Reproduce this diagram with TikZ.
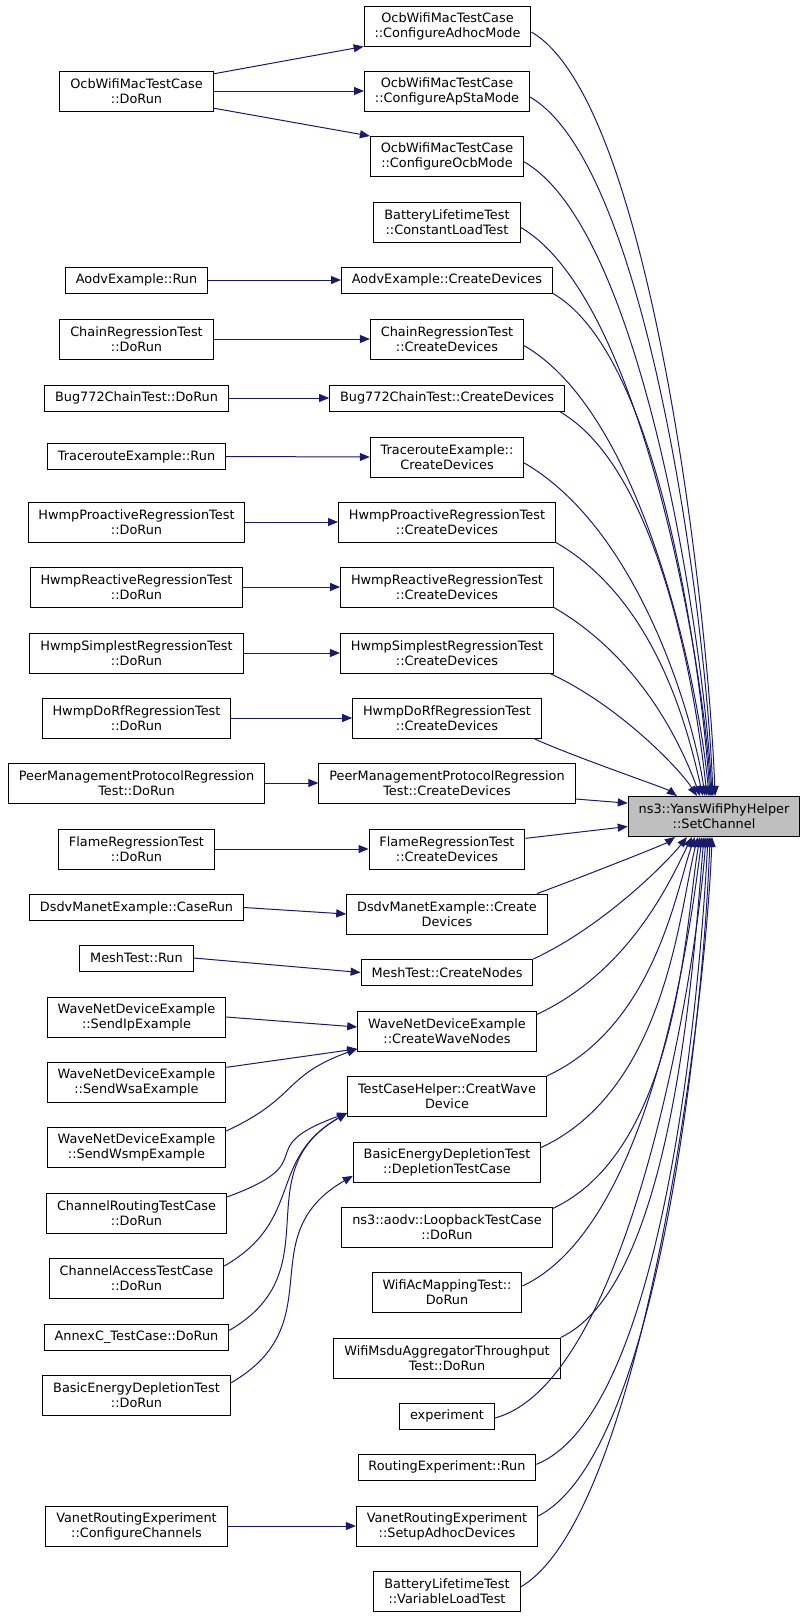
\documentclass[tikz,border=0pt]{standalone}
\usepackage{fontspec}
\setmainfont{DejaVu Sans}
\usetikzlibrary{arrows.meta}
\definecolor{callblue}{HTML}{191970}
\definecolor{targetgray}{HTML}{BFBFBF}

\begin{document}
\begin{tikzpicture}[x=0.75pt,y=0.75pt,
  fn/.style={draw=black,line width=0.75pt,fill=white,align=center,
    font=\fontsize{9.65}{11.25}\selectfont,inner xsep=7.8pt,inner ysep=1pt,
    minimum height=19.5pt},
  fntwo/.style={fn,minimum height=30pt},
  target/.style={fntwo,fill=targetgray},
  call/.style={callblue,line width=0.75pt,-{Triangle[length=7.5pt,width=6pt]}}]
\useasboundingbox (0,0) rectangle (807,-1617);
% callee
\node[target] (sc) at (714,-816.5) {ns3::YansWifiPhyHelper\\::SetChannel};
% direct callers
\node[fntwo] (adhoc) at (447.5,-26) {OcbWifiMacTestCase\\::ConfigureAdhocMode};
\node[fntwo] (apsta) at (447,-91) {OcbWifiMacTestCase\\::ConfigureApStaMode};
\node[fntwo] (ocbmode) at (447,-156.5) {OcbWifiMacTestCase\\::ConfigureOcbMode};
\node[fntwo] (constload) at (447,-222) {BatteryLifetimeTest\\::ConstantLoadTest};
\node[fn] (aodvcd) at (447,-280) {AodvExample::CreateDevices};
\node[fntwo] (chaincd) at (447,-339) {ChainRegressionTest\\::CreateDevices};
\node[fn] (bugcd) at (447,-398) {Bug772ChainTest::CreateDevices};
\node[fntwo] (tracecd) at (447,-457) {TracerouteExample::\\CreateDevices};
\node[fntwo] (procd) at (447,-522) {HwmpProactiveRegressionTest\\::CreateDevices};
\node[fntwo] (reacd) at (447,-587) {HwmpReactiveRegressionTest\\::CreateDevices};
\node[fntwo] (simcd) at (447,-653) {HwmpSimplestRegressionTest\\::CreateDevices};
\node[fntwo] (dorfcd) at (447,-718) {HwmpDoRfRegressionTest\\::CreateDevices};
\node[fntwo] (peercd) at (447,-783) {PeerManagementProtocolRegression\\Test::CreateDevices};
\node[fntwo] (flamecd) at (447,-849) {FlameRegressionTest\\::CreateDevices};
\node[fntwo] (dsdvcd) at (447,-914) {DsdvManetExample::Create\\Devices};
\node[fn] (meshcd) at (447,-972.5) {MeshTest::CreateNodes};
\node[fntwo] (wavecd) at (447,-1031) {WaveNetDeviceExample\\::CreateWaveNodes};
\node[fntwo] (tch) at (447,-1096.5) {TestCaseHelper::CreatWave\\Device};
\node[fntwo] (depl) at (447,-1162) {BasicEnergyDepletionTest\\::DepletionTestCase};
\node[fntwo] (loop) at (447,-1227) {ns3::aodv::LoopbackTestCase\\::DoRun};
\node[fntwo] (acmap) at (447,-1292) {WifiAcMappingTest::\\DoRun};
\node[fntwo] (msdu) at (447,-1358) {WifiMsduAggregatorThroughput\\Test::DoRun};
\node[fn] (expt) at (447,-1416) {experiment};
\node[fn] (routrun) at (447,-1467) {RoutingExperiment::Run};
\node[fntwo] (setup) at (447,-1526) {VanetRoutingExperiment\\::SetupAdhocDevices};
\node[fntwo] (varload) at (447,-1591) {BatteryLifetimeTest\\::VariableLoadTest};
% second level callers
\node[fntwo] (ocbrun) at (136.5,-91) {OcbWifiMacTestCase\\::DoRun};
\node[fn] (aodvrun) at (136.5,-280) {AodvExample::Run};
\node[fntwo] (chainrun) at (136.5,-339) {ChainRegressionTest\\::DoRun};
\node[fn] (bugrun) at (136.5,-398) {Bug772ChainTest::DoRun};
\node[fn] (tracerun) at (136.5,-456.5) {TracerouteExample::Run};
\node[fntwo] (prorun) at (136.5,-522) {HwmpProactiveRegressionTest\\::DoRun};
\node[fntwo] (rearun) at (136.5,-587) {HwmpReactiveRegressionTest\\::DoRun};
\node[fntwo] (simrun) at (136.5,-653) {HwmpSimplestRegressionTest\\::DoRun};
\node[fntwo] (dorfrun) at (136.5,-718) {HwmpDoRfRegressionTest\\::DoRun};
\node[fntwo] (peerrun) at (136.5,-783) {PeerManagementProtocolRegression\\Test::DoRun};
\node[fntwo] (flamerun) at (136.5,-849) {FlameRegressionTest\\::DoRun};
\node[fn] (dsdvrun) at (136.5,-907.5) {DsdvManetExample::CaseRun};
\node[fn] (meshrun) at (136.5,-958) {MeshTest::Run};
\node[fntwo] (ipex) at (136.5,-1017) {WaveNetDeviceExample\\::SendIpExample};
\node[fntwo] (wsaex) at (136.5,-1082) {WaveNetDeviceExample\\::SendWsaExample};
\node[fntwo] (wsmpex) at (136.5,-1147) {WaveNetDeviceExample\\::SendWsmpExample};
\node[fntwo] (chrouterun) at (136.5,-1213) {ChannelRoutingTestCase\\::DoRun};
\node[fntwo] (chaccrun) at (136.5,-1278) {ChannelAccessTestCase\\::DoRun};
\node[fn] (annexrun) at (136.5,-1337) {AnnexC\_TestCase::DoRun};
\node[fntwo] (bedrun) at (136.5,-1395) {BasicEnergyDepletionTest\\::DoRun};
\node[fntwo] (confchan) at (136.5,-1526) {VanetRoutingExperiment\\::ConfigureChannels};
% calls into the middle column
\draw[call] ([yshift=-2.5pt]ocbrun.north east) -- (adhoc.south west);
\draw[call] (ocbrun.east) -- (apsta.west);
\draw[call] ([yshift=2.5pt]ocbrun.south east) -- (ocbmode.north west);
\draw[call] (aodvrun.east) -- (aodvcd.west);
\draw[call] (chainrun.east) -- (chaincd.west);
\draw[call] (bugrun.east) -- (bugcd.west);
\draw[call] (tracerun.east) -- (tracecd.west);
\draw[call] (prorun.east) -- (procd.west);
\draw[call] (rearun.east) -- (reacd.west);
\draw[call] (simrun.east) -- (simcd.west);
\draw[call] (dorfrun.east) -- (dorfcd.west);
\draw[call] (peerrun.east) -- (peercd.west);
\draw[call] (flamerun.east) -- (flamecd.west);
\draw[call] (dsdvrun.east) -- (dsdvcd.west);
\draw[call] (meshrun.east) -- (meshcd.west);
\draw[call] (ipex.east) -- ([yshift=3pt]wavecd.west);
\draw[call] ([yshift=11pt]wsaex.east) -- ([yshift=2pt]wavecd.south west);
\draw[call] ([yshift=12pt]wsmpex.east) to[out=25,in=200,out distance=60pt,in distance=60pt] ([yshift=2pt]wavecd.south west);
\draw[call] ([yshift=12pt]chrouterun.east) to[out=20,in=200,out distance=80pt,in distance=80pt] ([yshift=3pt]tch.south west);
\draw[call] ([yshift=9pt]chaccrun.east) to[out=30,in=210,out distance=70pt,in distance=70pt] ([yshift=3pt]tch.south west);
\draw[call] ([yshift=5pt]annexrun.east) to[out=30,in=210,out distance=90pt,in distance=90pt] ([yshift=3pt]tch.south west);
\draw[call] ([yshift=9pt]bedrun.east) to[out=30,in=210,out distance=90pt,in distance=90pt] ([yshift=5pt]depl.south west);
\draw[call] (confchan.east) -- (setup.west);
% calls into SetChannel, from above
\draw[call] ([yshift=-4.5pt]adhoc.east) to[out=-30,in=92,out distance=105pt,in distance=130pt] ([xshift=0.8pt]sc.north);
\draw[call] ([yshift=-4.5pt]apsta.east) to[out=-30,in=92,out distance=105pt,in distance=119pt] ([xshift=-0.8pt]sc.north);
\draw[call] ([yshift=-4pt]ocbmode.east) to[out=-30,in=93,out distance=105pt,in distance=108pt] ([xshift=-1.5pt]sc.north);
\draw[call] ([yshift=-4pt]constload.east) to[out=-30,in=93,out distance=105pt,in distance=97pt] ([xshift=-2.3pt]sc.north);
\draw[call] (aodvcd.south east) to[out=-30,in=94,out distance=95pt,in distance=86pt] ([xshift=-3pt]sc.north);
\draw[call] ([yshift=-5pt]chaincd.east) to[out=-30,in=95,out distance=105pt,in distance=77pt] ([xshift=-3.8pt]sc.north);
\draw[call] ([xshift=-4pt]bugcd.south east) to[out=-30,in=96,out distance=90pt,in distance=65pt] ([xshift=-5.3pt]sc.north);
\draw[call] ([yshift=-4.5pt]tracecd.east) to[out=-30,in=98,out distance=100pt,in distance=57pt] ([xshift=-6.8pt]sc.north);
\draw[call] (procd.south east) to[out=-30,in=103,out distance=90pt,in distance=43pt] ([xshift=-8.3pt]sc.north);
\draw[call] (reacd.south east) to[out=-30,in=110,out distance=80pt,in distance=32pt] ([xshift=-10.5pt]sc.north);
\draw[call] ([xshift=-3pt]simcd.south east) to[out=-25,in=122,out distance=60pt,in distance=21pt] ([xshift=-12.8pt]sc.north);
\draw[call] ([xshift=-6pt]dorfcd.south east) to[out=-25,in=145,out distance=30pt,in distance=10pt] ([xshift=-27.8pt]sc.north);
% from the side
\draw[call] ([yshift=-12pt]peercd.east) -- ([yshift=10pt]sc.west);
\draw[call] ([yshift=8pt]flamecd.east) -- ([yshift=-7.5pt]sc.west);
% from below
\draw[call] ([xshift=-8pt]dsdvcd.north east) to[out=20,in=215,out distance=30pt,in distance=10pt] ([xshift=-29.3pt]sc.south);
\draw[call] (meshcd.north east) to[out=25,in=232,out distance=60pt,in distance=21pt] ([xshift=-20.3pt]sc.south);
\draw[call] ([yshift=-3pt]wavecd.north east) to[out=25,in=243,out distance=80pt,in distance=30pt] ([xshift=-16.5pt]sc.south);
\draw[call] (tch.north east) to[out=25,in=250,out distance=90pt,in distance=41pt] ([xshift=-14.3pt]sc.south);
\draw[call] ([yshift=-4.5pt]depl.north east) to[out=25,in=255,out distance=105pt,in distance=53pt] ([xshift=-12pt]sc.south);
\draw[call] ([yshift=-1.5pt]loop.north east) to[out=25,in=260,out distance=105pt,in distance=63pt] ([xshift=-10.5pt]sc.south);
\draw[call] ([yshift=4.5pt]acmap.east) to[out=25,in=263,out distance=105pt,in distance=77pt] ([xshift=-9pt]sc.south);
\draw[call] (msdu.north east) to[out=25,in=265,out distance=95pt,in distance=85pt] ([xshift=-7.5pt]sc.south);
\draw[call] ([yshift=-1.5pt]expt.east) to[out=15,in=266,out distance=105pt,in distance=99pt] ([xshift=-6pt]sc.south);
\draw[call] ([yshift=2pt]routrun.east) to[out=22,in=267,out distance=105pt,in distance=107pt] ([xshift=-4.5pt]sc.south);
\draw[call] ([yshift=7.5pt]setup.east) to[out=27,in=268,out distance=105pt,in distance=116pt] ([xshift=-3pt]sc.south);
\draw[call] ([yshift=3pt]varload.east) to[out=30,in=268,out distance=105pt,in distance=128pt] ([xshift=-1.5pt]sc.south);
\end{tikzpicture}
\end{document}
